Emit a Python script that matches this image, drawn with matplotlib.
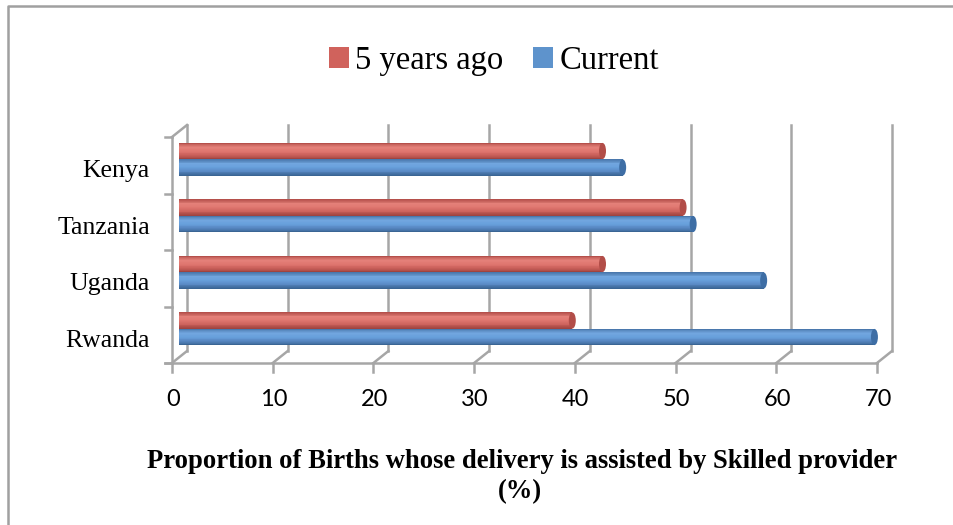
import numpy as np
import matplotlib
matplotlib.use('Agg')
import matplotlib.pyplot as plt
from matplotlib.patches import Ellipse, Patch
from matplotlib.colors import LinearSegmentedColormap
from matplotlib.lines import Line2D

# data (bottom to top)
countries = ['Rwanda', 'Uganda', 'Tanzania', 'Kenya']
five_years_ago = [39, 42, 50, 42]
current = [69, 58, 51, 44]
x_ticks = [0, 10, 20, 30, 40, 50, 60, 70]
series_names = ['5 years ago', 'Current']
xlabel_line1 = 'Proportion of Births whose delivery is assisted by Skilled provider'
xlabel_line2 = '(%)'

W, H = 954, 525
fig = plt.figure(figsize=(W / 100, H / 100), dpi=100)

# front plane of the plot in pixels
x0_px, x70_px = 172, 877
ytop_px, ybot_px = 137, 363
ax = fig.add_axes([x0_px / W, 1 - ybot_px / H, (x70_px - x0_px) / W, (ybot_px - ytop_px) / H])
ax.set_xlim(0, 70)
ax.set_ylim(0, len(countries))
ax.axis('off')

ppx = (x70_px - x0_px) / 70.0            # pixels per x unit
ppy = (ybot_px - ytop_px) / len(countries)  # pixels per category
dx = 15 / ppx   # depth offset (back wall)
dy = 12 / ppy
grid_col = '#a6a6a6'
lw = 1.8

# back wall gridlines
for v in x_ticks:
    ax.plot([v + dx, v + dx], [dy, len(countries) + dy], color=grid_col, lw=lw, clip_on=False, zorder=1)
    # floor diagonals
    ax.plot([v, v + dx], [0, dy], color=grid_col, lw=lw, clip_on=False, zorder=1)
    # front ticks
    ax.plot([v, v], [0, -9 / ppy], color=grid_col, lw=lw, clip_on=False, zorder=1)
    ax.text(v + 1 / ppx, -37 / ppy, str(v), ha='center', va='center',
            fontsize=17, family='Lato', color='black')

# front floor edge
ax.plot([-7 / ppx, 70], [0, 0], color=grid_col, lw=lw, clip_on=False, zorder=1)
# left wall
ax.plot([0, 0], [0, len(countries)], color=grid_col, lw=lw, clip_on=False, zorder=1)
ax.plot([0, dx], [len(countries), len(countries) + dy], color=grid_col, lw=lw, clip_on=False, zorder=1)
for k in range(len(countries) + 1):
    ax.plot([-7 / ppx, 0], [k, k], color=grid_col, lw=lw, clip_on=False, zorder=1)

# category labels
for i, c in enumerate(countries):
    ax.text(-22 / ppx, i + 0.5 - 6 / ppy, c, ha='right', va='center',
            fontsize=18.5, family='Liberation Serif')

# cylinder bars
bh = 16.5 / ppy
red_cmap = LinearSegmentedColormap.from_list('r', ['#b5504b', '#e4817a', '#e07770', '#cc625c', '#a04440'])
blue_cmap = LinearSegmentedColormap.from_list('b', ['#4a78ad', '#72a6df', '#68a0dc', '#5888c3', '#3a6594'])
cap_cols = ['#b24d48', '#3e6ea5']
nstrip = 20
ypos = np.arange(len(countries)) + 0.5 + dy / 2
for vals, off, cmap, capc in [(five_years_ago, bh / 2, red_cmap, cap_cols[0]),
                              (current, -bh / 2, blue_cmap, cap_cols[1])]:
    yc = ypos + off
    for s in range(nstrip):
        frac = s / (nstrip - 1)
        sy = yc + bh / 2 - (s + 0.5) * bh / nstrip
        ax.barh(sy, vals, left=dx / 2, height=bh / nstrip * 1.05,
                color=cmap(frac), edgecolor='none', zorder=3)
    for v, y in zip(vals, yc):
        ax.add_patch(Ellipse((v + dx / 2, y), 7 / ppx, bh * 0.98, facecolor=capc,
                             edgecolor='none', zorder=4, clip_on=False))

# legend
handles = [Patch(facecolor='#d0625c', edgecolor='none'), Patch(facecolor='#5e93cc', edgecolor='none')]
fig.legend(handles, series_names, loc='center', bbox_to_anchor=(494 / W, 1 - 61 / H),
           ncol=2, frameon=False, prop={'family': 'Liberation Serif', 'size': 23.5},
           handlelength=0.6, handleheight=0.6, handletextpad=0.2, columnspacing=0.9)

# axis title
fig.text(522 / W, 1 - 461 / H, xlabel_line1, ha='center', va='center',
         fontsize=19.2, fontweight='bold', family='Liberation Serif')
fig.text(520 / W, 1 - 492 / H, xlabel_line2, ha='center', va='center',
         fontsize=19.2, fontweight='bold', family='Liberation Serif')

# outer border (top and left visible)
fig.add_artist(Line2D([8 / W, 8 / W, 1], [0, 1 - 6 / H, 1 - 6 / H], transform=fig.transFigure,
                      color='#a0a0a0', lw=1.8))

fig.savefig('out.png', dpi=100)
